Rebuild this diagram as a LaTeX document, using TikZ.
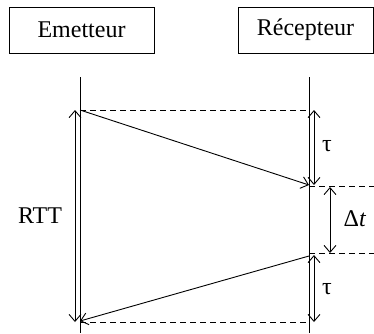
\documentclass[tikz,border=0pt]{standalone}
\usepackage{fontspec}
\setmainfont{Liberation Serif}
\usetikzlibrary{arrows.meta}
\begin{document}
\begin{tikzpicture}[x=1pt,y=-1pt,
  box/.style={draw,line width=1pt,minimum height=46pt,inner sep=0pt,font=\fontsize{24}{27}\selectfont},
  life/.style={line width=1pt},
  msg/.style={line width=0.9pt,-{Straight Barb[length=7pt,width=12pt]}},
  dim/.style={line width=0.9pt,{Straight Barb[length=7pt,width=12pt]}-{Straight Barb[length=7pt,width=12pt]}},
  guide/.style={line width=0.9pt,dash pattern=on 6pt off 4pt},
  lbl/.style={font=\fontsize{24}{27}\selectfont,inner sep=0pt}]
\useasboundingbox (0,0) rectangle (374,333);
\node[box,minimum width=145pt] (em) at (81.5,30) {Emetteur};
\node[box,minimum width=135pt] (rc) at (305.5,30) {Récepteur};
\coordinate (e0) at (80,77);
\coordinate (e1) at (80,333);
\coordinate (r0) at (309,77);
\coordinate (r1) at (309,333);
\draw[life] (e0) -- (e1);
\draw[life] (r0) -- (r1);
\coordinate (a) at (80,110);
\coordinate (ar) at (309,110);
\coordinate (b) at (309,185);
\coordinate (br) at (374,186);
\coordinate (bl) at (309,186);
\coordinate (c) at (309,256);
\coordinate (cl) at (309,253);
\coordinate (cr) at (374,253);
\coordinate (d) at (80,321);
\coordinate (dr) at (309,322);
\coordinate (dl) at (80,322);
\draw[guide] (a) -- (ar);
\draw[guide] (bl) -- (br);
\draw[guide] (cl) -- (cr);
\draw[guide] (dl) -- (dr);
\draw[msg] (a) -- (b);
\draw[msg] (c) -- (d);
\coordinate (rtt0) at (75,110);
\coordinate (rtt1) at (75,322);
\draw[dim] (rtt0) -- (rtt1);
\coordinate (t10) at (314,110);
\coordinate (t11) at (314,185);
\draw[dim] (t10) -- (t11);
\coordinate (dt0) at (330,187);
\coordinate (dt1) at (330,253);
\draw[dim] (dt0) -- (dt1);
\coordinate (t20) at (314,255);
\coordinate (t21) at (314,322);
\draw[dim] (t20) -- (t21);
\node[lbl] (rtt) at (40,216) {RTT};
\node[lbl] (tau1) at (327,146) {τ};
\node[lbl] (dt) at (355,219) {Δ\textit{t}};
\node[lbl] (tau2) at (327,289) {τ};
\end{tikzpicture}
\end{document}
